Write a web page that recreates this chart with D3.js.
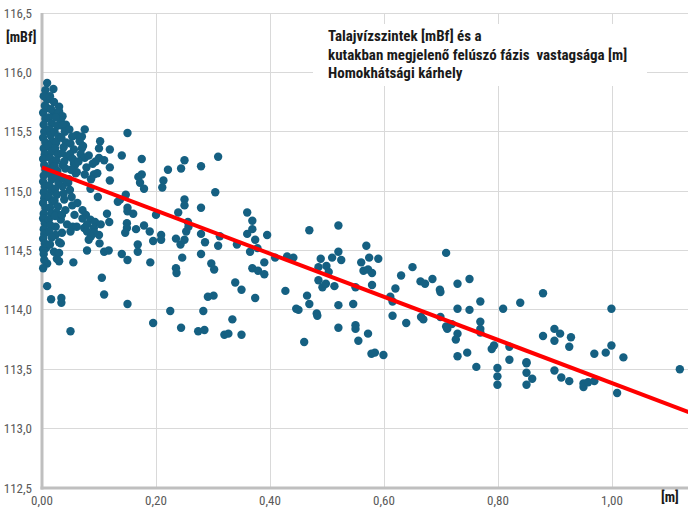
<!DOCTYPE html>
<html><head><meta charset="utf-8">
<script src="https://cdn.jsdelivr.net/npm/d3@7/dist/d3.min.js"></script>
<style>body{margin:0;background:#fff} svg{display:block}</style>
</head><body><svg id="c" width="688" height="516"></svg>
<script>
const xTicks = [0, 0.2, 0.4, 0.6, 0.8, 1.0, 1.2];
const yTicks = [112.5, 113, 113.5, 114, 114.5, 115, 115.5, 116, 116.5];
const titleLines = ["Talajvízszintek [mBf] és a", "kutakban megjelenő felúszó fázis  vastagsága [m]", "Homokhátsági kárhely"];
const yUnit = "[mBf]";
const xUnit = "[m]";
const trendX = [0, 1.2];
const trendY = [115.20, 113.02];

// [phase thickness m, groundwater level mBf]
const samples = [
[0.150,115.49],[0.140,115.30],[0.175,115.27],[0.169,115.12],[0.175,115.14],[0.172,115.07],[0.179,115.02],[0.221,115.18],[0.213,115.09],[0.211,115.03],[0.250,115.26],[0.244,115.19],[0.279,115.21],[0.309,115.29],[0.304,114.99],[0.147,114.97],[0.137,114.93],[0.150,114.86],[0.150,114.83],[0.160,114.81],[0.200,114.80],[0.250,114.93],[0.250,114.88],[0.239,114.82],[0.279,114.86],[0.149,114.73],[0.149,114.69],[0.146,114.65],[0.165,114.68],[0.179,114.71],[0.189,114.66],[0.256,114.74],[0.257,114.70],[0.253,114.66],[0.235,114.60],[0.209,114.63],[0.209,114.59],[0.195,114.58],[0.168,114.55],[0.168,114.49],[0.140,114.47],[0.150,114.42],[0.190,114.40],[0.246,114.44],[0.243,114.55],[0.250,114.59],[0.279,114.64],[0.286,114.57],[0.279,114.47],[0.309,114.54],[0.312,114.62],[0.297,114.39],[0.302,114.34],[0.235,114.35],[0.236,114.31],[0.150,114.05],[0.195,113.89],[0.225,113.99],[0.244,113.85],[0.274,113.82],[0.285,113.83],[0.283,113.99],[0.291,114.11],[0.301,114.12],[0.339,114.23],[0.350,114.17],[0.334,113.92],[0.320,113.79],[0.327,113.80],[0.350,113.79],[0.342,114.55],[0.360,114.82],[0.369,114.75],[0.369,114.68],[0.360,114.64],[0.374,114.59],[0.365,114.49],[0.378,114.52],[0.395,114.63],[0.369,114.35],[0.379,114.33],[0.390,114.40],[0.390,114.30],[0.374,114.10],[0.409,114.44],[0.430,114.45],[0.441,114.44],[0.469,114.67],[0.427,114.16],[0.446,114.01],[0.450,114.00],[0.465,114.12],[0.469,114.05],[0.460,113.73],[0.482,113.97],[0.485,114.25],[0.485,114.36],
[0.520,114.71],
[0.483,113.95],[0.489,114.43],[0.499,114.37],[0.503,114.32],[0.492,114.19],[0.498,114.22],[0.509,114.44],[0.513,114.20],[0.520,114.49],[0.525,114.42],[0.520,114.04],[0.520,113.85],[0.550,113.87],[0.550,113.84],[0.555,113.74],[0.546,114.05],[0.550,114.19],[0.560,114.40],[0.564,114.33],[0.569,114.54],[0.574,114.44],[0.572,114.34],[0.579,114.31],[0.579,114.21],[0.590,114.43],[0.572,113.80],[0.578,113.63],[0.584,113.64],[0.599,113.62],[0.611,114.11],[0.615,114.07],[0.615,113.95],[0.620,114.18],[0.630,114.29],[0.639,113.89],[0.650,114.36],[0.664,114.24],[0.672,114.22],[0.665,113.94],[0.669,113.92],[0.685,114.26],[0.698,114.17],[0.699,114.15],[0.699,113.94],[0.709,114.48],[0.709,113.86],[0.711,113.84],[0.719,113.88],[0.729,114.22],[0.729,114.01],[0.729,113.80],[0.726,113.75],[0.729,113.61],[0.746,113.64],[0.750,114.26],[0.750,114.00],[0.762,113.52],[0.769,114.07],[0.769,113.90],[0.769,113.84],[0.769,113.81],[0.789,113.67],[0.793,113.70],[0.799,113.51],[0.799,113.44],
[0.809,114.01],[0.839,114.06],[0.879,114.14],[0.879,113.78],[0.899,113.84],[0.899,113.74],[0.909,113.80],[0.928,113.77],[0.925,113.69],[0.999,114.01],[0.999,113.70],[0.989,113.64],[0.969,113.63],[1.020,113.60],[1.119,113.50],[0.820,113.69],[0.820,113.58],[0.799,113.37],[0.850,113.56],[0.850,113.55],[0.850,113.47],[0.860,113.42],[0.850,113.37],[0.899,113.49],[0.911,113.43],[0.925,113.40],[0.950,113.38],[0.950,113.35],[0.958,113.39],[0.969,113.40],[1.009,113.30],
[0.102,115.42],[0.119,115.35],[0.100,115.28],[0.109,115.26],[0.089,115.23],[0.119,115.20],[0.061,115.16],[0.075,115.14],[0.091,115.14],[0.119,115.09],[0.046,115.07],[0.049,115.01],[0.098,114.95],[0.133,114.91],[0.114,114.81],[0.061,115.47],[0.070,115.46],[0.075,115.52],[0.070,115.36],
[0.056,115.23],[0.036,115.22],[0.097,115.15],[0.059,115.15],[0.036,115.04],[0.085,115.02],[0.039,114.93],[0.053,114.88],[0.062,114.90],[0.071,114.84],[0.077,114.80],[0.085,114.76],[0.093,114.74],[0.074,114.69],[0.079,114.66],[0.100,114.63],[0.044,114.72],[0.033,114.76],[0.024,114.70],[0.024,114.63],[0.030,114.57],[0.050,114.66],[0.091,114.69],[0.103,114.72],
[0.118,114.74],[0.105,114.27],[0.109,114.13],[0.050,113.82],[0.009,114.20],[0.016,114.09],[0.034,114.10],[0.034,114.06],[0.055,114.40],[0.079,114.50],[0.109,114.49],[0.117,114.50],[0.101,114.56],[0.092,114.65],[0.086,114.62],[0.079,114.72],[0.071,114.77],[0.054,114.70],[0.061,114.70],[0.009,114.39],[0.026,114.43],[0.030,114.41],[0.021,114.49],[0.030,114.48],[0.007,114.52],[0.002,114.51],[0.035,114.65],[0.033,114.56],[0.082,114.59],
[0.009,115.91],[0.006,115.85],[0.020,115.86],[0.009,115.77],[0.021,115.75],[0.030,115.71],[0.009,115.70],[0.021,115.66],[0.030,115.67],[0.036,115.63],[0.033,115.59],[0.042,115.56],[0.094,115.25],[0.100,115.36],
[0.003,115.80],[0.005,115.72],[0.002,115.66],[0.006,115.61],[0.003,115.56],[0.004,115.50],[0.002,115.45],[0.006,115.41],[0.003,115.36],[0.005,115.31],[0.002,115.27],[0.004,115.22],[0.006,115.18],[0.003,115.13],[0.002,115.08],[0.005,115.04],[0.003,114.99],[0.004,114.94],[0.002,114.90],[0.006,114.86],[0.003,114.81],[0.002,114.77],[0.005,114.73],[0.003,114.68],[0.004,114.64],[0.002,114.60],[0.005,114.56],[0.003,114.47],[0.004,114.42],[0.002,114.35],
[0.014,115.80],[0.016,115.69],[0.012,115.62],[0.017,115.57],[0.013,115.52],[0.015,115.47],[0.018,115.42],[0.012,115.38],[0.016,115.33],[0.014,115.28],[0.018,115.24],[0.012,115.19],[0.015,115.14],[0.017,115.10],[0.013,115.05],[0.016,115.00],[0.012,114.95],[0.018,114.91],[0.014,114.86],[0.016,114.81],[0.012,114.76],[0.015,114.71],[0.013,114.66],[0.017,114.61],[0.014,114.55],
[0.024,115.62],[0.027,115.55],[0.022,115.50],[0.029,115.46],[0.025,115.41],[0.023,115.36],[0.028,115.31],[0.025,115.26],[0.022,115.21],[0.027,115.17],[0.024,115.12],[0.029,115.07],[0.023,115.02],[0.026,114.97],[0.022,114.92],[0.028,114.87],[0.025,114.82],[0.023,114.79],
[0.036,115.55],[0.040,115.50],[0.034,115.45],[0.042,115.41],[0.038,115.37],[0.035,115.32],[0.044,115.29],[0.039,115.25],[0.041,115.19],[0.036,115.11],[0.043,115.08],[0.038,114.98],[0.041,114.84],[0.035,114.80],
[0.048,115.52],[0.053,115.46],[0.050,115.40],[0.056,115.35],[0.049,115.31],[0.054,115.27],[0.058,115.22],[0.051,115.18],[0.047,115.10],[0.052,114.95],[0.057,114.80],
[0.066,115.42],[0.072,115.38],[0.068,115.31],[0.075,115.28],[0.064,115.25],[0.078,115.20],[0.082,115.30],[0.086,115.10]
];

const W = 688, H = 516;
const svg = d3.select("#c");
const x = d3.scaleLinear().domain([0, 1.2]).range([42, 726]);
const y = d3.scaleLinear().domain([112.5, 116.5]).range([488, 13]);
const loc = d3.formatLocale({decimal: ",", thousands: " ", grouping: [3], currency: ["", ""]});
const fx = loc.format(".2f"), fy = loc.format(".1f");
const narrow = "'Liberation Sans Narrow','Arial Narrow','Roboto Condensed',sans-serif";

// gridlines
svg.append("g").selectAll("line").data(yTicks.filter(d => d > 112.5)).join("line")
  .attr("x1", x(0)).attr("x2", W).attr("y1", d => y(d)).attr("y2", d => y(d))
  .attr("stroke", "#d9d9d9").attr("stroke-width", 1).attr("shape-rendering", "crispEdges");
svg.append("g").selectAll("line").data(xTicks.filter(d => d > 0)).join("line")
  .attr("x1", d => x(d)).attr("x2", d => x(d)).attr("y1", y(116.5)).attr("y2", y(112.5))
  .attr("stroke", "#d9d9d9").attr("stroke-width", 1).attr("shape-rendering", "crispEdges");

// axes lines
svg.append("line").attr("x1", x(0)).attr("x2", x(0)).attr("y1", y(116.5)).attr("y2", y(112.5) + 1.5)
  .attr("stroke", "#bfbfbf").attr("stroke-width", 3);
svg.append("line").attr("x1", x(0) - 1.5).attr("x2", W).attr("y1", y(112.5)).attr("y2", y(112.5))
  .attr("stroke", "#bfbfbf").attr("stroke-width", 3);

// tick labels
svg.append("g").selectAll("text").data(yTicks).join("text")
  .attr("x", 32).attr("y", d => y(d)).attr("dy", "0.35em").attr("text-anchor", "end")
  .attr("font-family", narrow).attr("font-size", 13).attr("fill", "#595959").text(d => fy(d));
svg.append("g").selectAll("text").data(xTicks.filter(d => d <= 1.0)).join("text")
  .attr("x", d => x(d)).attr("y", 505).attr("text-anchor", "middle")
  .attr("font-family", narrow).attr("font-size", 13).attr("fill", "#595959").text(d => fx(d));

// unit labels
svg.append("text").attr("x", 6).attr("y", 42).attr("font-family", narrow).attr("font-weight", "bold")
  .attr("font-size", 14).attr("fill", "#1a1a1a").text(yUnit);
svg.append("text").attr("x", 661).attr("y", 502).attr("font-family", narrow).attr("font-weight", "bold")
  .attr("font-size", 14).attr("fill", "#1a1a1a").text(xUnit);

// points
svg.append("g").selectAll("circle").data(samples).join("circle")
  .attr("cx", d => x(d[0])).attr("cy", d => y(d[1])).attr("r", 4.2).attr("fill", "#156082");

// trendline
svg.append("line").attr("x1", x(trendX[0])).attr("y1", y(trendY[0]))
  .attr("x2", x(trendX[1])).attr("y2", y(trendY[1]))
  .attr("stroke", "#ff0000").attr("stroke-width", 4);

// title box
svg.append("rect").attr("x", 313).attr("y", 24).attr("width", 334).attr("height", 62).attr("fill", "#fff");
svg.append("g").selectAll("text").data(titleLines).join("text")
  .attr("x", 328).attr("y", (d, i) => 41 + i * 18.5)
  .style("white-space", "pre")
  .attr("font-family", narrow).attr("font-weight", "bold").attr("font-size", 15)
  .attr("fill", "#1a1a1a").text(d => d);
</script></body></html>
